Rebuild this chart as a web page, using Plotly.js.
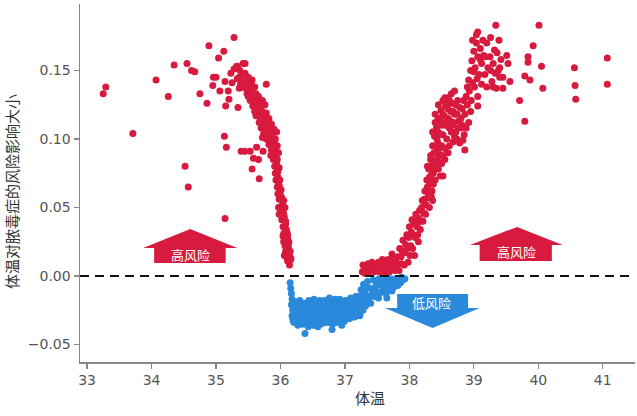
<!DOCTYPE html>
<html>
<head>
<meta charset="utf-8">
<script src="https://cdn.plot.ly/plotly-3.0.1.min.js"></script>
<style>html,body{margin:0;padding:0;background:#fff;}#chart{width:637px;height:416px;}</style>
</head>
<body>
<div id="chart"></div>
<script>
// ---- Data (temperature, SHAP value) ----
// Red: scattered points on the low-temperature side
const redLeftScatterX = [33.25,33.29,33.71,34.07,34.26,34.35,34.52,34.57,34.55,34.62,34.67,34.75,34.86,34.89,34.95,34.96,35.00,35.04,35.06,35.12,35.14,35.15,35.13,35.16,35.19,35.20,35.23,35.25,35.28,35.28,35.32,35.33,35.34,35.36,35.39,35.45,35.53,35.45,35.56,35.67,35.66,35.73,35.78,35.14,35.58,35.63];
const redLeftScatterY = [0.133,0.138,0.104,0.143,0.131,0.154,0.080,0.065,0.155,0.150,0.149,0.133,0.126,0.168,0.139,0.145,0.145,0.159,0.135,0.164,0.142,0.124,0.102,0.094,0.135,0.129,0.148,0.141,0.174,0.151,0.153,0.144,0.123,0.137,0.091,0.091,0.091,0.155,0.078,0.071,0.085,0.091,0.140,0.042,0.086,0.094];
// Red: dense descending band 35.3 - 36.2
const redLeftBandX = [35.33,35.37,35.42,35.40,35.45,35.47,35.43,35.50,35.38,35.52,35.48,35.55,35.58,35.53,35.62,35.57,35.65,35.60,35.68,35.64,35.70,35.67,35.73,35.76,35.70,35.75,35.79,35.74,35.80,35.83,35.78,35.84,35.87,35.82,35.88,35.91,35.86,35.90,35.93,35.89,35.93,35.91,35.94,35.92,35.95,35.93,35.96,35.95,35.97,35.96,35.99,35.98,36.02,35.97,36.03,36.00,36.04,36.02,36.06,36.04,36.08,36.05,36.10,36.06,36.11,36.07,36.12,36.08,36.13,36.09,36.14,36.11,36.16,35.50,35.55,35.62,35.72,35.85,35.98,36.05,36.12];
const redLeftBandY = [0.153,0.150,0.155,0.146,0.148,0.141,0.138,0.145,0.140,0.137,0.133,0.135,0.130,0.128,0.128,0.124,0.125,0.120,0.122,0.117,0.118,0.112,0.114,0.116,0.108,0.110,0.112,0.104,0.106,0.108,0.100,0.101,0.103,0.096,0.097,0.099,0.092,0.090,0.094,0.085,0.087,0.080,0.082,0.075,0.077,0.070,0.072,0.065,0.067,0.060,0.062,0.056,0.057,0.050,0.052,0.046,0.047,0.041,0.043,0.036,0.038,0.031,0.032,0.026,0.028,0.022,0.023,0.018,0.019,0.014,0.016,0.011,0.012,0.131,0.139,0.117,0.101,0.088,0.045,0.025,0.021];
const redLeftBand2X = [35.36,35.41,35.46,35.51,35.56,35.60,35.62,35.52,35.58,35.66,35.72,35.76,35.69,35.63,35.72,35.78,35.82,35.69,35.78,35.86,35.90,35.94,35.81,35.92,35.95,35.85,35.97,35.95,35.98,35.96,35.99,35.98,36.01,36.00,36.05,36.07,36.05,36.08,36.09,36.11,36.13,36.15,36.16,36.14,36.04,36.06];
const redLeftBand2Y = [0.145,0.142,0.137,0.141,0.143,0.138,0.133,0.131,0.127,0.131,0.128,0.125,0.126,0.121,0.120,0.119,0.115,0.114,0.108,0.111,0.107,0.105,0.103,0.100,0.095,0.096,0.090,0.085,0.079,0.076,0.070,0.066,0.063,0.059,0.055,0.050,0.045,0.040,0.034,0.030,0.025,0.018,0.013,0.008,0.029,0.015];
// Red: rising band 37.3 - 39.0
const redRightBandX = [37.27,37.30,37.33,37.36,37.40,37.44,37.48,37.52,37.56,37.60,37.64,37.67,37.70,37.73,37.76,37.79,37.82,37.85,37.88,37.90,37.93,37.96,37.98,38.00,38.02,38.04,38.06,38.08,38.10,38.12,38.14,38.16,38.18,38.20,38.22,38.24,38.26,38.27,38.29,38.30,38.32,38.33,38.35,38.36,38.37,38.39,38.40,38.42,38.44,38.45,38.47,38.49,38.50,38.52,38.54,38.56,38.58,38.60,38.62,38.64,38.66,38.68,38.70,38.72,38.74,38.76,38.78,38.80,38.83,38.85,38.45,38.55,38.65,38.75,38.82,38.70,38.58,38.50,38.43,38.68,38.60,38.80,38.92,38.95,38.40,38.47,38.55,38.65,38.72,38.88,38.30,38.35,38.40,38.45,38.38,38.33,38.42,38.50,38.48,38.28,38.86,38.90];
const redRightBandY = [0.003,0.007,0.004,0.009,0.005,0.008,0.004,0.010,0.006,0.009,0.005,0.012,0.008,0.016,0.006,0.011,0.014,0.020,0.009,0.026,0.017,0.030,0.010,0.036,0.022,0.041,0.030,0.015,0.045,0.036,0.025,0.048,0.040,0.055,0.046,0.062,0.052,0.070,0.060,0.078,0.068,0.088,0.075,0.095,0.083,0.102,0.090,0.108,0.097,0.115,0.104,0.121,0.110,0.128,0.117,0.124,0.113,0.130,0.108,0.120,0.126,0.112,0.118,0.105,0.100,0.113,0.097,0.108,0.099,0.103,0.125,0.130,0.133,0.128,0.122,0.135,0.100,0.095,0.100,0.098,0.122,0.115,0.112,0.120,0.112,0.088,0.093,0.105,0.125,0.108,0.057,0.062,0.070,0.078,0.080,0.085,0.085,0.082,0.073,0.080,0.118,0.125];
const redRightBand2X = [37.28,37.31,37.34,37.38,37.42,37.46,37.50,37.54,37.58,37.62,37.66,37.69,37.72,37.75,37.78,37.81,37.84,37.87,37.89,37.92,37.94,37.97,37.99,38.01,38.03,38.05,38.07,38.09,38.11,38.13,38.15,38.17,38.19,38.21,38.23,38.25,38.28,38.31,38.34,38.31,38.34,38.37,38.36,38.40,38.44,38.48,38.52,38.56,38.60,38.64,38.68,38.74,38.78,38.84,38.52,38.58,38.62,38.66,38.70,38.62,38.55,38.45,38.38,38.42,38.33,38.37,38.41,38.46,38.52,38.60,38.36,38.31,38.75,38.82];
const redRightBand2Y = [0.008,0.002,0.006,0.003,0.010,0.003,0.006,0.003,0.012,0.003,0.008,0.003,0.010,0.013,0.004,0.008,0.004,0.014,0.018,0.008,0.023,0.020,0.028,0.015,0.032,0.020,0.038,0.028,0.040,0.030,0.042,0.034,0.050,0.040,0.056,0.045,0.065,0.072,0.080,0.050,0.058,0.067,0.105,0.118,0.105,0.113,0.103,0.110,0.115,0.113,0.120,0.118,0.123,0.128,0.118,0.125,0.128,0.110,0.102,0.095,0.085,0.092,0.090,0.095,0.070,0.075,0.078,0.083,0.088,0.090,0.055,0.062,0.108,0.110];
// Red: upper cluster 38.9 - 39.5
const redUpperX = [38.88,38.90,38.92,38.95,38.97,39.00,39.02,39.04,39.06,39.06,39.08,39.10,39.12,39.15,39.17,39.20,39.22,39.25,39.28,39.30,39.33,39.36,39.38,39.42,38.93,38.98,39.01,38.96,38.98,39.04,39.10,39.14,39.18,39.26,39.32,39.40,39.45,39.05,39.00,39.12,39.20,39.30];
const redUpperY = [0.131,0.138,0.143,0.150,0.157,0.164,0.152,0.170,0.178,0.160,0.147,0.166,0.155,0.161,0.147,0.170,0.152,0.160,0.142,0.155,0.148,0.163,0.150,0.158,0.135,0.141,0.138,0.128,0.172,0.176,0.158,0.172,0.160,0.150,0.165,0.152,0.145,0.144,0.149,0.140,0.138,0.138];
// Red: scattered points on the high-temperature side
const redRightScatterX = [39.34,40.01,39.92,39.84,39.84,40.05,39.79,39.87,40.07,39.71,39.79,40.56,40.57,40.58,41.07,41.07,39.51,39.53,39.39,39.26,39.40,39.56,39.45,39.35,39.06,39.06,38.86,38.52];
const redRightScatterY = [0.183,0.183,0.168,0.160,0.156,0.153,0.146,0.143,0.137,0.128,0.113,0.152,0.139,0.129,0.159,0.140,0.161,0.155,0.172,0.174,0.145,0.142,0.137,0.137,0.131,0.124,0.092,0.073];
// Blue: negative contributions 36.1 - 38
const blueX = [36.15,36.16,36.17,36.18,36.17,36.19,36.18,36.20,36.21,36.22,36.23,36.25,36.27,36.29,36.31,36.33,36.35,36.37,36.39,36.41,36.43,36.45,36.47,36.49,36.51,36.53,36.55,36.57,36.59,36.61,36.63,36.65,36.67,36.69,36.71,36.73,36.75,36.77,36.79,36.81,36.83,36.85,36.87,36.89,36.91,36.93,36.95,36.97,36.99,37.01,37.03,37.05,37.07,37.09,37.11,37.13,37.15,37.17,37.19,37.21,37.23,36.24,36.30,36.36,36.44,36.52,36.60,36.68,36.76,36.84,36.92,37.00,37.08,37.16,37.25,37.27,37.29,37.31,37.33,37.35,37.38,37.41,37.44,37.47,37.50,37.53,37.56,37.59,37.62,37.65,37.68,37.71,37.74,37.77,37.80,37.84,37.88,37.65,36.38,36.43,36.80,36.58,36.95,37.24,37.30,37.36];
const blueY = [-0.005,-0.009,-0.013,-0.017,-0.021,-0.025,-0.029,-0.033,-0.020,-0.027,-0.019,-0.024,-0.030,-0.035,-0.022,-0.027,-0.032,-0.020,-0.025,-0.030,-0.034,-0.019,-0.023,-0.028,-0.033,-0.021,-0.026,-0.031,-0.035,-0.018,-0.024,-0.029,-0.033,-0.020,-0.025,-0.030,-0.034,-0.019,-0.023,-0.028,-0.032,-0.017,-0.022,-0.027,-0.031,-0.019,-0.024,-0.029,-0.033,-0.018,-0.022,-0.027,-0.031,-0.016,-0.021,-0.026,-0.030,-0.015,-0.020,-0.025,-0.029,-0.031,-0.018,-0.035,-0.026,-0.017,-0.028,-0.023,-0.016,-0.025,-0.033,-0.025,-0.023,-0.021,-0.010,-0.015,-0.006,-0.012,-0.018,-0.004,-0.009,-0.014,-0.003,-0.008,-0.012,-0.002,-0.007,-0.011,-0.003,-0.007,-0.010,-0.002,-0.006,-0.004,-0.002,-0.003,-0.001,-0.016,-0.042,-0.037,-0.039,-0.037,-0.036,-0.020,-0.022,-0.017];
const blue2X = [36.20,36.26,36.32,36.38,36.44,36.50,36.56,36.62,36.68,36.74,36.80,36.86,36.92,36.98,37.04,37.10,37.16,37.22,
  36.22,36.28,36.34,36.40,36.46,36.52,36.58,36.64,36.70,36.76,36.82,36.88,36.94,37.00,37.06,37.12,37.18,37.24,
  36.19,36.25,36.31,36.37,36.43,36.49,36.55,36.61,36.67,36.73,36.79,36.85,36.91,36.97,37.03,37.09,37.15,37.21,
  36.21,36.27,36.33,36.39,36.45,36.51,36.57,36.63,36.69,36.75,36.81,36.87,36.93,36.99,37.05,37.11,37.17,37.23,
  37.26,37.28,37.32,37.34,37.37,37.40,37.43,37.46,37.49,37.52,37.55,37.58,37.61,37.64,37.67,37.70,37.73,37.76,37.79,37.82,37.86,37.90,37.93];
const blue2Y = [-0.021,-0.019,-0.020,-0.022,-0.018,-0.020,-0.021,-0.019,-0.018,-0.020,-0.021,-0.019,-0.017,-0.020,-0.018,-0.017,-0.016,-0.015,
  -0.026,-0.027,-0.025,-0.026,-0.028,-0.025,-0.026,-0.027,-0.025,-0.026,-0.027,-0.024,-0.026,-0.025,-0.024,-0.023,-0.022,-0.021,
  -0.031,-0.032,-0.030,-0.031,-0.033,-0.030,-0.031,-0.032,-0.030,-0.031,-0.029,-0.030,-0.031,-0.029,-0.028,-0.027,-0.026,-0.027,
  -0.034,-0.036,-0.035,-0.034,-0.035,-0.036,-0.034,-0.035,-0.034,-0.033,-0.035,-0.034,-0.033,-0.032,-0.031,-0.030,-0.029,-0.028,
  -0.020,-0.025,-0.022,-0.008,-0.016,-0.020,-0.010,-0.015,-0.004,-0.016,-0.012,-0.004,-0.010,-0.013,-0.005,-0.009,-0.011,-0.008,-0.006,-0.007,-0.005,-0.003,-0.002];

const xTicks = [33,34,35,36,37,38,39,40,41];
const yTicks = [-0.05,0,0.05,0.10,0.15];
const xTitle = '体温';
const yTitle = '体温对脓毒症的风险影响大小';
const riskHigh = '高风险';
const riskLow = '低风险';

const RED = '#d81a3e';
const BLUE = '#2a89da';

const redX = [].concat(redLeftScatterX, redLeftBandX, redLeftBand2X, redRightBandX, redRightBand2X, redUpperX, redRightScatterX);
const redY = [].concat(redLeftScatterY, redLeftBandY, redLeftBand2Y, redRightBandY, redRightBand2Y, redUpperY, redRightScatterY);
const bX = [].concat(blueX, blue2X);
const bY = [].concat(blueY, blue2Y);

const traces = [
  {x: bX, y: bY, type: 'scatter', mode: 'markers', marker: {color: BLUE, size: 7}, hoverinfo: 'x+y', showlegend: false},
  {x: redX, y: redY, type: 'scatter', mode: 'markers', marker: {color: RED, size: 7}, hoverinfo: 'x+y', showlegend: false}
];

const upArrow = (xl, xr, xa, rl, rr, yb, yt, ya) =>
  `M ${xl},${yt} L ${xa},${ya} L ${xr},${yt} L ${rr},${yt} L ${rr},${yb} L ${rl},${yb} L ${rl},${yt} Z`;

const shapes = [
  {type: 'line', xref: 'paper', yref: 'y', x0: 0, x1: 1, y0: 0, y1: 0,
   line: {color: '#111', width: 2, dash: '9px,6px'}, layer: 'above'},
  {type: 'path', xref: 'x', yref: 'y', path: upArrow(33.87, 35.33, 34.60, 34.04, 35.15, 0.0095, 0.0204, 0.0343),
   fillcolor: RED, line: {width: 0}},
  {type: 'path', xref: 'x', yref: 'y', path: upArrow(38.94, 40.38, 39.67, 39.09, 40.21, 0.0110, 0.0226, 0.0358),
   fillcolor: RED, line: {width: 0}},
  {type: 'path', xref: 'x', yref: 'y', path: upArrow(37.62, 39.09, 38.36, 37.81, 38.91, -0.0131, -0.0234, -0.0380),
   fillcolor: BLUE, line: {width: 0}}
];

const cjk = '"Noto Sans CJK SC", "Noto Sans", sans-serif';
const annotations = [
  {x: 34.60, y: 0.0160, xref: 'x', yref: 'y', text: riskHigh, showarrow: false, font: {family: cjk, size: 13, color: '#fff'}},
  {x: 39.66, y: 0.0175, xref: 'x', yref: 'y', text: riskHigh, showarrow: false, font: {family: cjk, size: 13, color: '#fff'}},
  {x: 38.35, y: -0.0195, xref: 'x', yref: 'y', text: riskLow, showarrow: false, font: {family: cjk, size: 13, color: '#fff'}},
  {x: -0.1225, y: 0.475, xref: 'paper', yref: 'paper', text: yTitle, textangle: -90, showarrow: false,
   xanchor: 'center', yanchor: 'middle', font: {family: cjk, size: 15, color: '#333'}},
  {x: 0.5225, y: -0.098, xref: 'paper', yref: 'paper', text: xTitle, showarrow: false,
   xanchor: 'center', yanchor: 'middle', font: {family: cjk, size: 15, color: '#333'}}
];

const layout = {
  width: 637, height: 416,
  margin: {l: 80, r: 2, t: 4, b: 54},
  paper_bgcolor: '#fff', plot_bgcolor: '#fff',
  font: {family: '"DejaVu Sans", sans-serif', size: 13, color: '#555'},
  xaxis: {
    range: [32.89, 41.50], tickvals: xTicks, ticktext: xTicks.map(String),
    showgrid: false, zeroline: false, showline: true, linecolor: '#888', linewidth: 1.5,
    ticks: 'outside', ticklen: 5, tickcolor: '#888', tickwidth: 1.2,
    tickfont: {family: '"DejaVu Sans", sans-serif', size: 14, color: '#555'}
  },
  yaxis: {
    range: [-0.0628, 0.1985], tickvals: yTicks, tickformat: '.2f',
    showgrid: false, zeroline: false, showline: true, linecolor: '#888', linewidth: 1.5,
    ticks: 'outside', ticklen: 5, tickcolor: '#888', tickwidth: 1.2,
    tickfont: {family: '"DejaVu Sans", sans-serif', size: 14, color: '#555'}
  },
  shapes: shapes,
  annotations: annotations
};

Plotly.newPlot('chart', traces, layout, {displayModeBar: false, staticPlot: true});
</script>
</body>
</html>
